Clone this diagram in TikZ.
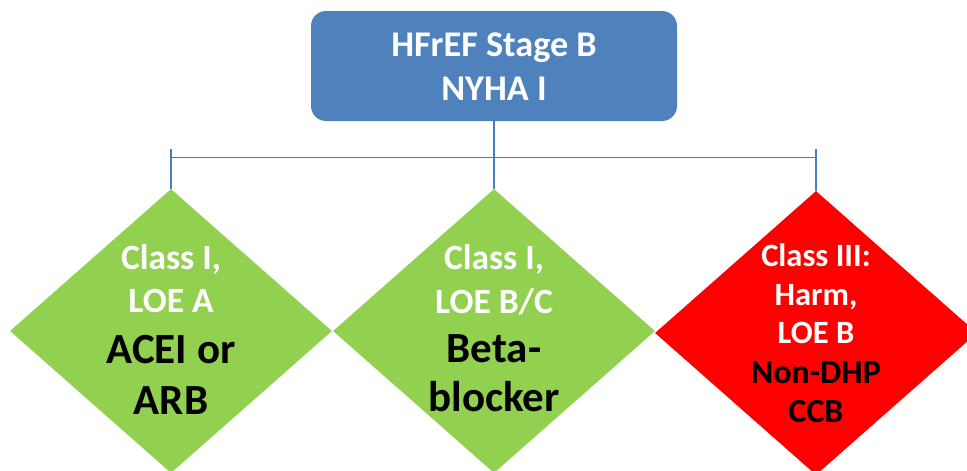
\documentclass[tikz,border=0pt]{standalone}
\usepackage{fontspec}
\setmainfont{Carlito}
\usetikzlibrary{shapes.geometric}
\definecolor{boxblue}{HTML}{4F81BD}
\definecolor{lineblue}{HTML}{4A7EBB}
\definecolor{leafgreen}{HTML}{92D050}
\definecolor{harmred}{HTML}{FF0000}
\tikzset{
  topbox/.style={draw=none, fill=boxblue, rounded corners=15pt, minimum width=366pt, minimum height=110pt, inner sep=0pt},
  dia/.style={diamond, draw=none, minimum width=322pt, minimum height=284pt, inner sep=0pt},
  wt/.style={anchor=base, text=white, inner sep=0pt, font=\bfseries\fontsize{35.5}{40}\selectfont},
  wts/.style={anchor=base, text=white, inner sep=0pt, font=\bfseries\fontsize{32.5}{38}\selectfont},
  bt/.style={anchor=base, text=black, inner sep=0pt, font=\bfseries\fontsize{43}{48}\selectfont},
  bts/.style={anchor=base, text=black, inner sep=0pt, font=\bfseries\fontsize{33.8}{38}\selectfont},
  tt/.style={anchor=base, text=white, inner sep=0pt, font=\bfseries\fontsize{36.2}{42}\selectfont},
  conn/.style={draw=lineblue, line width=1.1pt}
}
\begin{document}
\begin{tikzpicture}[x=1pt, y=-1pt]
\clip (0,0) rectangle (967,471);
\fill[white] (0,0) rectangle (967,471);
% top box
\node[topbox] (top) at (494,66) {};
\node[tt] (t1) at (494,56) {HFrEF Stage B};
\node[tt] (t2) at (494,100) {NYHA I};
% diamonds
\node[dia, fill=leafgreen] (d1) at (171,331) {};
\node[dia, fill=leafgreen] (d2) at (494,331) {};
\node[dia, fill=harmred] (d3) at (816,333) {};
% connectors
\coordinate (hl) at (171,157);
\coordinate (hr) at (816,157);
\coordinate (tl) at (171,149);
\coordinate (tr) at (816,149);
\draw[conn] (top.south) -- (d2.north);
\draw[conn, line width=0.9pt] (hl) -- (hr);
\draw[conn, line width=1.6pt] (tl) -- (d1.north);
\draw[conn, line width=1.4pt] (tr) -- (d3.north);
% texts left
\node[wt] (a1) at (171,269) {Class I,};
\node[wt] (a2) at (171,312) {LOE A};
\node[bt] (a3) at (171,363) {ACEI or};
\node[bt] (a4) at (171,414) {ARB};
% texts middle
\node[wt] (b1) at (494,269) {Class I,};
\node[wt] (b2) at (494,313) {LOE B/C};
\node[bt] (b3) at (494,362) {Beta-};
\node[bt] (b4) at (494,411) {blocker};
% texts right
\node[wts] (c1) at (816,266) {Class III:};
\node[wts] (c2) at (816,305) {Harm,};
\node[wts] (c3) at (816,343) {LOE B};
\node[bts] (c4) at (816,383) {Non-DHP};
\node[bts] (c5) at (816,422) {CCB};
\end{tikzpicture}
\end{document}
